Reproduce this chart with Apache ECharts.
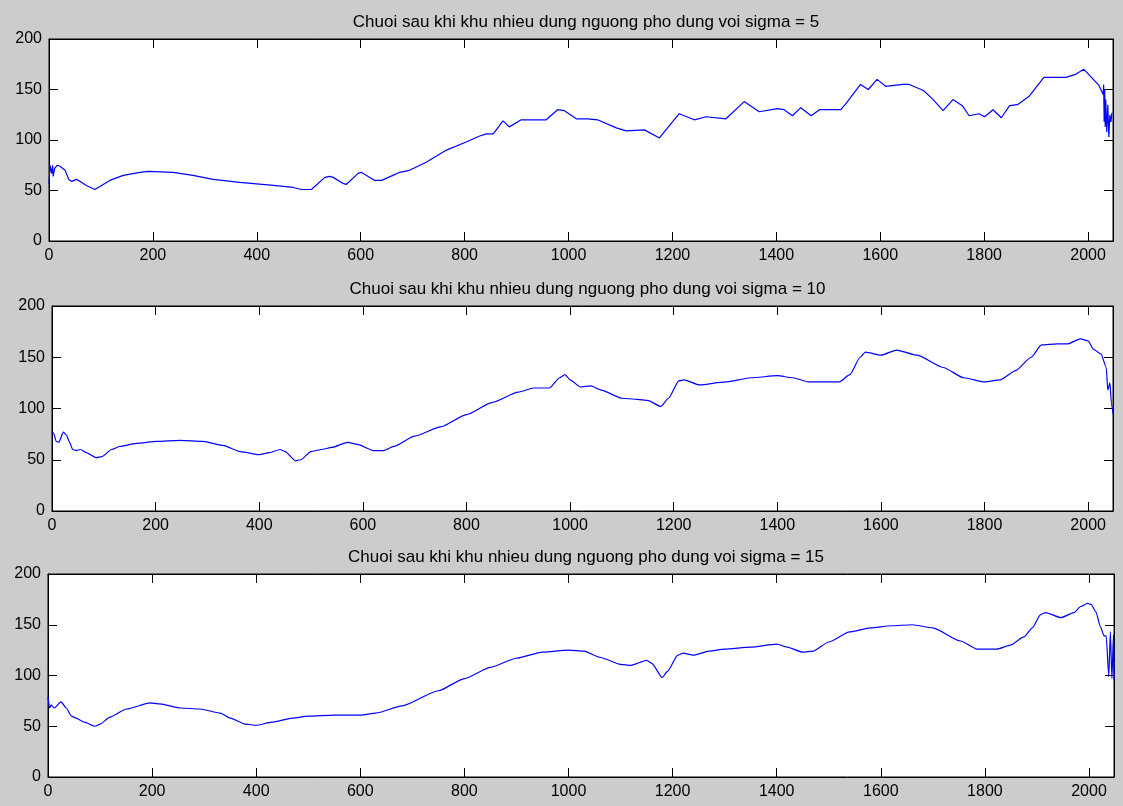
<!DOCTYPE html>
<html>
<head>
<meta charset="utf-8">
<script src="https://cdn.jsdelivr.net/npm/echarts@6/dist/echarts.min.js"></script>
<style>
html,body{margin:0;padding:0;background:#cccccc;}
#c{width:1123px;height:806px;}
</style>
</head>
<body>
<div id="c"></div>
<script>
var titles = [
  "Chuoi sau khi khu nhieu dung nguong pho dung voi sigma = 5",
  "Chuoi sau khi khu nhieu dung nguong pho dung voi sigma = 10",
  "Chuoi sau khi khu nhieu dung nguong pho dung voi sigma = 15"
];
var xTicks = [0, 200, 400, 600, 800, 1000, 1200, 1400, 1600, 1800, 2000];
var yTicks = [0, 50, 100, 150, 200];

var x1 = [0,2,5,7,8,11,16,21,31,38,44,53,60,72,88,98,117,143,175,191,239,277,316,367,432,470,486,505,531,540,547,566,572,595,601,627,640,662,675,694,726,765,803,829,842,855,874,886,909,957,979,992,1015,1037,1056,1092,1111,1146,1175,1213,1242,1265,1303,1338,1367,1402,1415,1431,1447,1467,1483,1524,1534,1562,1577,1594,1611,1643,1656,1683,1700,1721,1740,1758,1771,1790,1801,1817,1833,1849,1864,1886,1915,1957,1976,1992,2021,2029,2030,2031,2032,2033,2034,2036,2038,2040,2042,2044,2046,2048];
var y1 = [57,75,67,75,64,72,75,74,70,61,59,61,59,55,51,54,60,65,68,69,68,65,61,58,55,53,51,51,63,64,63,57,56,67,68,60,60,65,68,70,78,90,98,104,106,106,119,113,120,120,130,129,121,121,120,112,109,110,102,126,120,123,121,138,128,131,130,124,132,124,130,130,136,155,150,160,153,155,155,149,141,129,140,134,124,126,123,130,122,134,135,143,162,162,165,170,154,145,155,118,150,113,140,108,135,103,125,118,127];

var x2 = [0,3,8,13,22,28,33,40,47,55,66,86,96,115,131,163,202,247,292,330,363,400,420,440,450,470,480,500,520,540,570,590,620,640,660,700,750,800,850,900,930,960,980,990,1000,1020,1040,1060,1100,1130,1150,1175,1190,1210,1220,1250,1300,1350,1400,1430,1460,1520,1540,1560,1570,1600,1630,1670,1720,1760,1800,1830,1860,1890,1910,1940,1960,1985,2000,2010,2025,2035,2038,2042,2045,2048];
var y2 = [77,76,68,67,77,74,68,60,59,60,57,52,53,60,63,66,68,69,68,64,58,55,57,60,58,49,50,58,60,62,67,65,59,59,63,73,82,94,106,116,120,120,130,133,128,121,122,118,110,109,108,102,110,127,128,123,126,130,132,130,126,126,133,150,155,152,157,152,140,130,126,128,137,150,162,163,163,168,166,158,153,140,118,125,105,95];

var x3 = [0,3,6,12,25,35,45,54,70,90,100,119,151,196,215,254,292,331,350,380,400,430,470,500,550,600,630,680,750,800,850,900,950,1000,1030,1060,1100,1120,1150,1160,1180,1190,1210,1220,1240,1270,1300,1350,1400,1420,1450,1470,1500,1540,1580,1620,1660,1700,1753,1785,1823,1849,1875,1891,1907,1917,1946,1971,1984,1997,2004,2013,2022,2029,2033,2038,2041,2044,2047,2048];
var y3 = [79,68,71,68,74,68,60,58,54,50,52,59,67,73,72,68,67,63,58,52,51,54,58,60,61,61,63,70,85,97,108,117,123,125,124,118,111,110,115,112,98,104,120,122,120,124,126,128,131,128,123,124,133,143,147,149,150,147,134,126,126,130,138,147,160,162,157,162,168,171,170,163,148,139,139,99,143,97,140,95];

var xs = [x1, x2, x3];
var ys = [y1, y2, y3];
var grids = [
  {left: 49, top: 39, width: 1064, height: 202},
  {left: 52, top: 306, width: 1061, height: 205},
  {left: 48, top: 574, width: 1066, height: 203}
];
var titleTops = [9, 276, 544];
var smooths = [false, 0.2, 0.2];
var FONT = 'Liberation Sans';
var FS = 16;

function pairs(a, b) { var r = []; for (var i = 0; i < a.length; i++) r.push([a[i], b[i]]); return r; }

var option = {
  backgroundColor: '#cccccc',
  animation: false,
  title: [], grid: [], xAxis: [], yAxis: [], series: []
};
for (var k = 0; k < 3; k++) {
  var g = grids[k];
  option.title.push({
    text: titles[k], left: g.left + g.width / 2, top: titleTops[k], textAlign: 'center',
    textStyle: {fontFamily: FONT, fontSize: 17, fontWeight: 'normal', color: '#000'}
  });
  option.grid.push({left: g.left, top: g.top, width: g.width, height: g.height,
    show: true, backgroundColor: '#ffffff', borderColor: '#000', borderWidth: 1, containLabel: false});
  var common = {
    type: 'value', gridIndex: k, min: 0, max: 2048, interval: 200,
    splitLine: {show: false},
    axisLine: {show: true, onZero: false, lineStyle: {color: '#000', width: 1}},
    axisTick: {show: true, inside: true, length: 9, lineStyle: {color: '#000', width: 1}}
  };
  option.xAxis.push(Object.assign({}, common, {
    position: 'bottom',
    axisLabel: {show: true, margin: 7, color: '#000', fontFamily: FONT, fontSize: FS,
      formatter: function (v) { return xTicks.indexOf(v) >= 0 ? String(v) : ''; }}
  }));
  option.xAxis.push(Object.assign({}, common, {position: 'top', axisLabel: {show: false}}));
  var ycommon = {
    type: 'value', gridIndex: k, min: 0, max: 200, interval: 50,
    splitLine: {show: false},
    axisLine: {show: true, onZero: false, lineStyle: {color: '#000', width: 1}},
    axisTick: {show: true, inside: true, length: 9, lineStyle: {color: '#000', width: 1}}
  };
  option.yAxis.push(Object.assign({}, ycommon, {
    position: 'left',
    axisLabel: {show: true, margin: 7, color: '#000', fontFamily: FONT, fontSize: FS,
      formatter: function (v) { return yTicks.indexOf(v) >= 0 ? String(v) : ''; }}
  }));
  option.yAxis.push(Object.assign({}, ycommon, {position: 'right', axisLabel: {show: false}}));
  option.series.push({
    type: 'line', xAxisIndex: 2 * k, yAxisIndex: 2 * k, data: pairs(xs[k], ys[k]),
    showSymbol: false, symbol: 'none', smooth: smooths[k], smoothMonotone: 'x',
    lineStyle: {color: '#0000ff', width: 1.2}
  });
}
var chart = echarts.init(document.getElementById('c'), null, {renderer: 'canvas'});
chart.setOption(option);
</script>
</body>
</html>
